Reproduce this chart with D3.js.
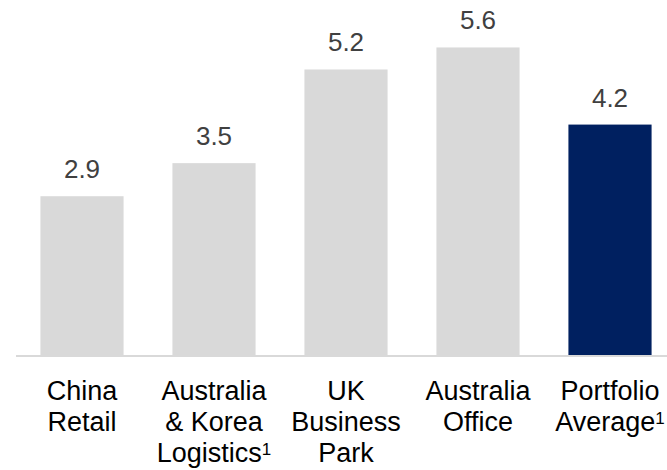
<!DOCTYPE html>
<html>
<head>
<meta charset="utf-8">
<script src="https://cdn.jsdelivr.net/npm/d3@7"></script>
<style>
  body { margin: 0; background: #fff; }
  svg { display: block; font-family: Arial, "Liberation Sans", sans-serif; }
</style>
</head>
<body>
<div id="chart"></div>
<script>
const categories = ['China Retail', 'Australia & Korea Logistics', 'UK Business Park', 'Australia Office', 'Portfolio Average'];
const labelLines = [
  ['China', 'Retail'],
  ['Australia', '& Korea', 'Logistics'],
  ['UK', 'Business', 'Park'],
  ['Australia', 'Office'],
  ['Portfolio', 'Average'],
];
const footnotes = [null, '1', null, null, '1'];
const values = [2.9, 3.5, 5.2, 5.6, 4.2];
const highlight = [false, false, false, false, true];

const width = 667;
const height = 470;
const baseY = 356;

const svg = d3.select('#chart')
    .append('svg')
    .attr('width', width)
    .attr('height', height);

const x = d3.scaleBand()
    .domain(categories)
    .range([16, 676])
    .paddingInner(0.37)
    .paddingOuter(0.185);

const y = d3.scaleLinear()
    .domain([0, 6])
    .range([baseY, 25.4]);

const data = categories.map((c, i) => ({
  cat: c, value: values[i], lines: labelLines[i], note: footnotes[i], hi: highlight[i],
}));

svg.selectAll('.bar')
    .data(data)
    .enter()
    .append('rect')
    .attr('class', 'bar')
    .attr('x', (d) => x(d.cat))
    .attr('y', (d) => y(d.value))
    .attr('width', x.bandwidth())
    .attr('height', (d) => y(0) - y(d.value))
    .attr('fill', (d) => d.hi ? '#002060' : '#d9d9d9');

// baseline
svg.append('line')
    .attr('x1', 16)
    .attr('x2', width)
    .attr('y1', y(0))
    .attr('y2', y(0))
    .attr('stroke', '#d9d9d9')
    .attr('stroke-width', 2);

// value labels
svg.selectAll('.val')
    .data(data)
    .enter()
    .append('text')
    .attr('class', 'val')
    .attr('x', (d) => x(d.cat) + x.bandwidth() / 2)
    .attr('y', (d) => y(d.value) - 18)
    .attr('text-anchor', 'middle')
    .attr('font-size', 26)
    .attr('fill', '#404040')
    .text((d) => d.value.toFixed(1));

// category labels
const cat = svg.selectAll('.cat')
    .data(data)
    .enter()
    .append('g')
    .attr('class', 'cat')
    .attr('transform', (d) => `translate(${x(d.cat) + x.bandwidth() / 2}, 400)`);

cat.each(function(d) {
  const g = d3.select(this);
  d.lines.forEach((ln, i) => {
    const t = g.append('text')
        .attr('y', i * 31.2)
        .attr('text-anchor', 'middle')
        .attr('font-size', 27)
        .attr('fill', '#000');
    t.append('tspan').text(ln);
    if (i === d.lines.length - 1 && d.note) {
      t.append('tspan')
          .attr('font-size', 17)
          .attr('dy', -7)
          .text(d.note);
    }
  });
});
</script>
</body>
</html>
